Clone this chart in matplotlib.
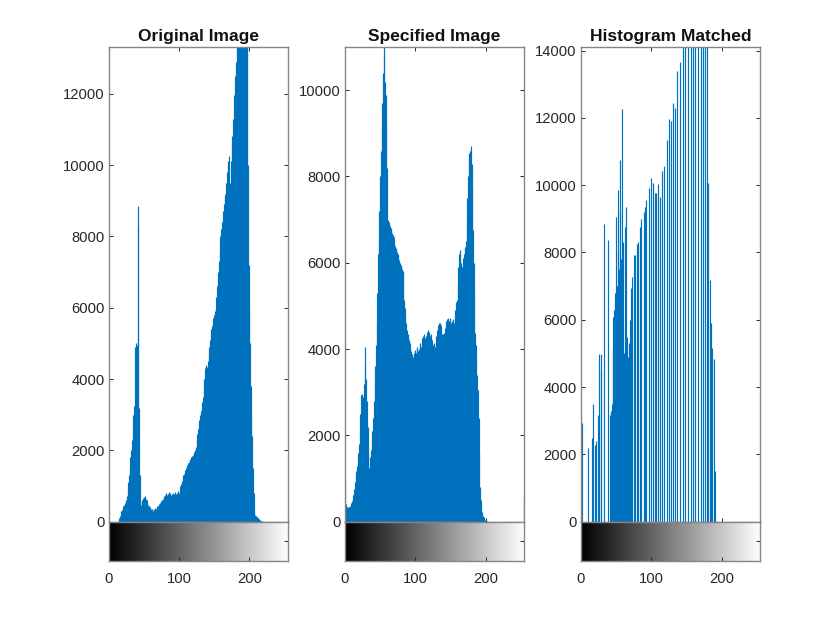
import numpy as np
import matplotlib
matplotlib.use('Agg')
import matplotlib.pyplot as plt

plt.rcParams['font.family'] = ['Liberation Sans', 'DejaVu Sans']

titles = ['Original Image', 'Specified Image', 'Histogram Matched']
xticks = [0, 100, 200]
gray_levels = np.arange(256)

# counts per gray level
original_counts = [
    0, 0, 0, 0, 0, 0, 0, 0, 0, 0,
    0, 0, 0, 0, 30, 90, 150, 220, 300, 330,
    380, 450, 480, 520, 560, 600, 720, 900, 1100, 1300,
    1500, 1800, 2000, 2300, 2600, 3000, 3250, 3100, 4900, 5000,
    4950, 8850, 8300, 3200, 1300, 620, 480, 560, 620, 660,
    680, 720, 700, 640, 600, 540, 480, 450, 420, 400,
    370, 350, 330, 310, 340, 350, 380, 370, 400, 430,
    450, 480, 510, 520, 560, 590, 620, 650, 700, 720,
    740, 780, 800, 760, 790, 770, 820, 800, 750, 720,
    780, 810, 760, 790, 730, 820, 780, 800, 780, 850,
    800, 850, 1000, 1050, 1150, 1250, 1300, 1350, 1400, 1450,
    1500, 1550, 1600, 1650, 1680, 1700, 1750, 1800, 1820, 1850,
    1880, 1900, 1950, 2000, 2100, 2300, 2450, 2600, 2750, 2850,
    3000, 3100, 3200, 3350, 3500, 3700, 4000, 4300, 4400, 4300,
    4350, 4500, 4700, 4900, 5100, 5300, 5400, 5500, 5600, 5700,
    5800, 5900, 6000, 6300, 6600, 6800, 7000, 7300, 7600, 8000,
    8200, 8400, 8500, 8700, 8900, 9100, 9200, 9500, 9800, 10000,
    10100, 10250, 9500, 9400, 10100, 10600, 10800, 11300, 11950, 12200,
    12500, 12900, 13500, 14000, 14300, 14500, 15000, 15200, 15500, 16000,
    16200, 16000, 15800, 15500, 15000, 14500, 14000, 13500, 10000, 7200,
    6000, 5000, 3800, 3000, 2400, 1500, 800, 300, 200, 170,
    150, 130, 110, 90, 70, 50, 30, 20, 10, 0,
    0, 0, 0, 0, 0, 0, 0, 0, 0, 0,
    0, 0, 0, 0, 0, 0, 0, 0, 0, 0,
    0, 0, 0, 0, 0, 0, 0, 0, 0, 0,
    0, 0, 0, 0, 0, 100,
]

specified_counts = [
    950, 420, 360, 340, 330, 310, 330, 360, 400, 440,
    480, 540, 620, 760, 920, 1060, 1180, 1300, 1450, 1600,
    1800, 2100, 2500, 2930, 2950, 2400, 2900, 3200, 3600, 4060,
    3300, 2800, 2200, 1600, 1250, 1350, 1500, 1660, 1850, 2100,
    2400, 2800, 3200, 3600, 4100, 4600, 5300, 6200, 6600, 7200,
    8000, 8600, 9200, 9700, 10400, 11000, 10800, 10200, 9900, 9150,
    8200, 7000, 6950, 6900, 6850, 6800, 6760, 6700, 6650, 6600,
    6500, 6400, 6350, 6290, 6250, 6200, 6150, 6060, 6000, 5950,
    5900, 5850, 5800, 5750, 5130, 4950, 4800, 4600, 4440, 4350,
    4250, 4200, 4140, 4050, 3950, 3880, 3820, 3780, 3900, 3980,
    3950, 3900, 4000, 4050, 3950, 4000, 4100, 4150, 4050, 4150,
    4250, 4300, 4200, 4350, 4250, 4300, 4400, 4350, 4450, 4400,
    4350, 4300, 4250, 4350, 4200, 4100, 4150, 4050, 4050, 4150,
    4300, 4450, 4550, 4600, 4500, 4600, 4550, 4400, 4350, 4250,
    4350, 4380, 4500, 4550, 4650, 4700, 4620, 4730, 4650, 4720,
    4680, 4600, 4650, 4700, 4620, 4600, 4700, 4900, 5100, 5130,
    5500, 5900, 6200, 6290, 6200, 6000, 5900, 5900, 6100, 6200,
    6300, 6360, 6500, 7000, 7500, 8000, 8400, 8540, 8600, 8700,
    8300, 7760, 6760, 6000, 5300, 4370, 4100, 3800, 3400, 3050,
    2400, 1600, 810, 500, 350, 220, 140, 100, 60, 40,
    30, 20, 10, 0, 0, 0, 0, 0, 0, 0,
    0, 0, 0, 0, 0, 0, 0, 0, 0, 0,
    0, 0, 0, 0, 0, 0, 0, 0, 0, 0,
    0, 0, 0, 0, 0, 0, 0, 0, 0, 0,
    0, 0, 0, 0, 0, 0, 0, 0, 0, 0,
    0, 0, 0, 0, 0, 500,
]

# matched histogram only has some levels filled
matched_bins = [
    0, 2, 10, 15, 17, 20, 22, 24, 26, 28, 29, 33, 39,
    41, 42, 43, 44, 45, 46, 47, 48, 49, 50, 51, 52, 53, 54, 55, 56, 57,
    58, 59, 60, 61, 62, 63, 64, 65, 66, 67, 68, 69, 71, 73, 75, 77, 79,
    81, 84, 86, 89, 91, 93, 96, 99, 102, 105, 107, 110, 113, 115, 118,
    122, 125, 128, 131, 134, 137, 141, 145, 148, 152, 156, 159, 162,
    166, 170, 173, 176, 179, 180, 183, 185, 187, 189, 191,
]
matched_counts = [
    1390, 2940, 2190, 2480, 3500, 2290, 2400, 3170, 4980, 4500, 4980, 8840, 8370,
    3170, 3200, 3300, 3500, 6090, 5200, 6300, 6800, 6500, 9060, 7000, 9860, 8000, 7500, 10750, 9220, 7800,
    12270, 6500, 8320, 5000, 4270, 8770, 9360, 5500, 4300, 4900, 5300, 6000, 6940, 7280, 7920, 7920, 8250,
    8320, 8770, 9010, 9210, 9360, 9560, 9910, 10210, 10060, 9760, 9780, 10040, 9640, 10410, 10560,
    11340, 11960, 11900, 12440, 12290, 13400, 13670, 15000, 15500, 15800, 16000, 16200, 15800,
    15500, 15200, 15000, 14800, 14500, 10070, 7180, 5900, 5160, 4830, 1520,
]

matched_full = np.zeros(256)
matched_full[matched_bins] = matched_counts

panels = [
    (original_counts, 13300, np.arange(0, 12001, 2000), 108.7),
    (specified_counts, 10994, np.arange(0, 10001, 2000), 345.0),
    (matched_full, 14098, np.arange(0, 14001, 2000), 581.0),
]

W, H = 840, 630
ax_w = 179.3
top, zero, bottom = 47.3, 521.7, 560.7
frame = '#858585'
tick_c = '#262626'
blue = '#0072BD'

fig = plt.figure(figsize=(W / 100, H / 100), dpi=100)
gradient = np.arange(256).reshape(1, -1)

for title, (counts, ymax, yticks, left) in zip(titles, panels):
    ax = fig.add_axes([left / W, 1 - zero / H, ax_w / W, (zero - top) / H])
    ax.vlines(gray_levels, 0, counts, color=blue, linewidth=0.85)
    ax.set_xlim(0, 255)
    ax.set_ylim(0, ymax)
    ax.set_xticks(xticks)
    ax.set_xticklabels([])
    ax.set_yticks(yticks)
    ax.tick_params(direction='in', top=True, right=True, length=3, width=0.7,
                   color=tick_c, labelsize=10.6, labelcolor='#262626', pad=3)
    ax.set_title(title, fontsize=12.5, fontweight='bold', pad=4.5, color='#111111')
    for s in ax.spines.values():
        s.set_color(frame)
        s.set_linewidth(1.0)

    cax = fig.add_axes([left / W, 1 - bottom / H, ax_w / W, (bottom - zero) / H])
    cax.imshow(gradient, cmap='gray', aspect='auto', extent=[0, 255, 0, 1], vmin=0, vmax=255)
    cax.set_xticks(xticks)
    cax.set_yticks([0.5])
    cax.set_yticklabels([])
    cax.tick_params(direction='in', right=True, left=False, length=3, width=0.7,
                    color=tick_c, labelsize=10.6, labelcolor='#262626', pad=8)
    for s in cax.spines.values():
        s.set_color(frame)
        s.set_linewidth(1.0)

fig.savefig('out.png', dpi=100)
